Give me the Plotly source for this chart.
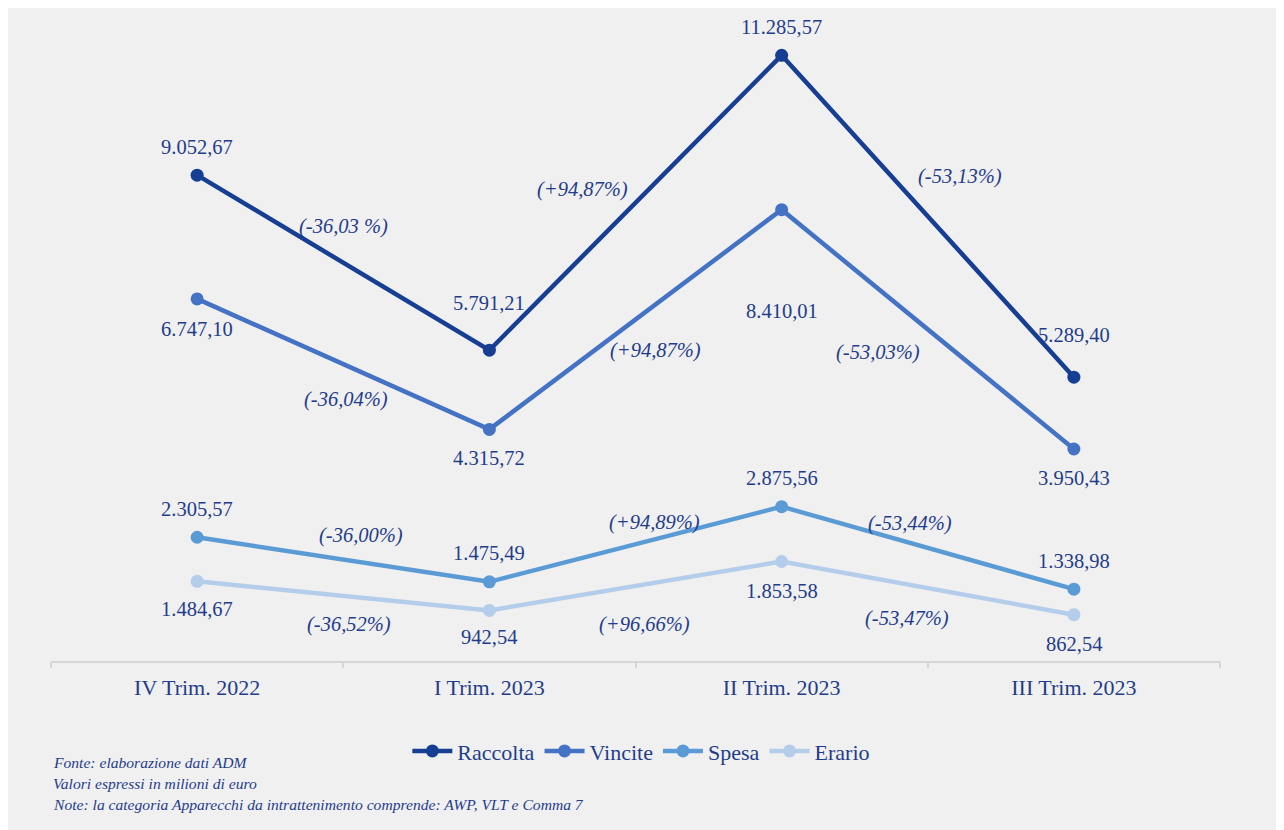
import plotly.graph_objects as go

categories = ["IV Trim. 2022", "I Trim. 2023", "II Trim. 2023", "III Trim. 2023"]
series_names = ["Raccolta", "Vincite", "Spesa", "Erario"]
raccolta = [9052.67, 5791.21, 11285.57, 5289.40]
vincite = [6747.10, 4315.72, 8410.01, 3950.43]
spesa = [2305.57, 1475.49, 2875.56, 1338.98]
erario = [1484.67, 942.54, 1853.58, 862.54]
series_values = [raccolta, vincite, spesa, erario]

# percentage changes between consecutive quarters (as printed on the chart)
pct_raccolta = ["(-36,03 %)", "(+94,87%)", "(-53,13%)"]
pct_vincite = ["(-36,04%)", "(+94,87%)", "(-53,03%)"]
pct_spesa = ["(-36,00%)", "(+94,89%)", "(-53,44%)"]
pct_erario = ["(-36,52%)", "(+96,66%)", "(-53,47%)"]
pct_labels = [pct_raccolta, pct_vincite, pct_spesa, pct_erario]

notes = [
    "Fonte: elaborazione dati ADM",
    "Valori espressi in milioni di euro",
    "Note: la categoria Apparecchi da intrattenimento comprende: AWP, VLT e Comma 7",
]

# ---- styling ----
colors = ["#163E93", "#4472C4", "#5B9BD5", "#B4CDEB"]
text_color = "#1F3D8C"
bg = "#f0f0f0"
FONT = "Liberation Serif"

# pixel offsets of value labels relative to their points (positive = up)
label_shift = [
    [28, 47, 28, 42],
    [-30, -29, -101, -29],
    [28, 29, 29, 28],
    [-28, -27, -29, -29],
]
# positions of percentage labels (x in category index units, y in data units)
pct_pos = [
    [(0.50, 8102), (1.32, 8791), (2.61, 9033)],
    [(0.51, 4880), (1.57, 5793), (2.33, 5755)],
    [(0.56, 2347), (1.565, 2589), (2.44, 2570)],
    [(0.52, 689), (1.53, 689), (2.43, 801)],
]


def fmt_it(v):
    s = f"{v:,.2f}"
    return s.replace(",", "X").replace(".", ",").replace("X", ".")


xs = list(range(len(categories)))
fig = go.Figure()
for name, vals, col in zip(series_names, series_values, colors):
    fig.add_trace(go.Scatter(
        x=xs, y=vals, name=name, mode="lines+markers",
        line=dict(color=col, width=4.5),
        marker=dict(color=col, size=13),
        hoverinfo="skip",
    ))

# invisible trace to hold the boundary-tick axis
fig.add_trace(go.Scatter(x=[-0.5, 3.5], y=[0, 0], xaxis="x2", mode="lines",
                         line=dict(width=0), showlegend=False, hoverinfo="skip"))

annotations = []
for vals, shifts in zip(series_values, label_shift):
    for i, (v, s) in enumerate(zip(vals, shifts)):
        annotations.append(dict(
            x=i, y=v, xref="x", yref="y", text=fmt_it(v), showarrow=False,
            yshift=s, font=dict(family=FONT, size=20.5, color=text_color),
        ))
for labels, poss in zip(pct_labels, pct_pos):
    for t, (px, py) in zip(labels, poss):
        annotations.append(dict(
            x=px, y=py, xref="x", yref="y", text=f"<i>{t}</i>", showarrow=False,
            font=dict(family=FONT, size=20.5, color=text_color),
        ))
for k, n in enumerate(notes):
    annotations.append(dict(
        x=0.0, y=-0.157 - k * 0.0327, xref="paper", yref="paper",
        xanchor="left", yanchor="middle", text=f"<i>{n}</i>", showarrow=False,
        font=dict(family=FONT, size=15.6, color=text_color),
    ))

fig.update_layout(
    width=1284, height=830,
    margin=dict(l=43, r=72, t=9, b=177),
    paper_bgcolor=bg, plot_bgcolor=bg,
    showlegend=True,
    legend=dict(orientation="h", x=0.505, xanchor="center", y=-0.14, yanchor="middle",
                font=dict(family=FONT, size=22, color=text_color),
                bgcolor="rgba(0,0,0,0)", itemwidth=40),
    xaxis=dict(range=[-0.5, 3.5], tickmode="array", tickvals=xs, ticktext=categories,
               showgrid=False, zeroline=False, showline=True, linecolor="#d6d6d6",
               linewidth=1.5, ticks="", ticklabelstandoff=6,
               tickfont=dict(family=FONT, size=22, color=text_color)),
    xaxis2=dict(range=[-0.5, 3.5], overlaying="x", matches="x", tickmode="array",
                tickvals=[-0.5, 0.5, 1.5, 2.5, 3.5], ticks="outside", ticklen=6,
                tickwidth=1.5, tickcolor="#d6d6d6", showticklabels=False,
                showgrid=False, zeroline=False, showline=False, side="bottom"),
    yaxis=dict(range=[0, 12000], visible=False, showgrid=False, zeroline=False),
    annotations=annotations,
)

fig.write_html("out.html")
